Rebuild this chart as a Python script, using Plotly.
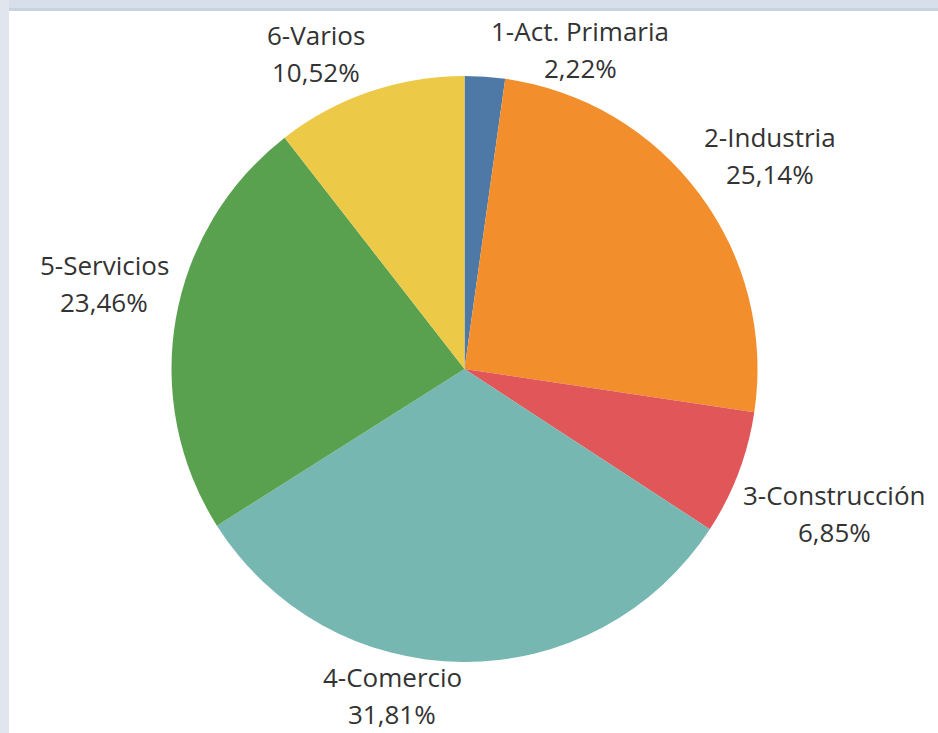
import plotly.graph_objects as go

# ---- data ----
categories = ["1-Act. Primaria", "2-Industria", "3-Construcción", "4-Comercio", "5-Servicios", "6-Varios"]
shares = [2.22, 25.14, 6.85, 31.81, 23.46, 10.52]
colors = ["#4e79a7", "#f28e2b", "#e15759", "#76b7b2", "#59a14f", "#edc948"]

# ---- layout config (label anchor centres in px) ----
W, H = 938, 733
label_centres = [(580, 31), (770, 137), (834, 495), (392, 677), (104, 265), (316, 35)]
line_gap = 37
pie_cx, pie_cy, pie_r = 464.5, 369, 293

def fmt(v):
    return f"{v:.2f}".replace(".", ",") + "%"

fig = go.Figure(go.Pie(
    labels=categories,
    values=shares,
    sort=False,
    direction="clockwise",
    rotation=0,
    marker=dict(colors=colors, line=dict(color="white", width=0)),
    textinfo="none",
    hoverinfo="label+percent",
    showlegend=False,
    domain=dict(x=[(pie_cx - pie_r) / W, (pie_cx + pie_r) / W],
                y=[1 - (pie_cy + pie_r) / H, 1 - (pie_cy - pie_r) / H]),
))

font = dict(family="Open Sans, Noto Sans, sans-serif", size=26, color="#333333")
annotations = []
for name, v, (x, y) in zip(categories, shares, label_centres):
    annotations.append(dict(x=x / W, y=1 - y / H, xref="paper", yref="paper",
                            text=name, showarrow=False, font=font,
                            xanchor="center", yanchor="middle"))
    annotations.append(dict(x=x / W, y=1 - (y + line_gap) / H, xref="paper", yref="paper",
                            text=fmt(v), showarrow=False, font=font,
                            xanchor="center", yanchor="middle"))

shapes = [
    dict(type="rect", xref="paper", yref="paper", x0=0, x1=1, y0=1 - 11 / H, y1=1,
         fillcolor="#d6dfea", line=dict(width=0), layer="above"),
    dict(type="rect", xref="paper", yref="paper", x0=0, x1=1, y0=1 - 11 / H, y1=1 - 8 / H,
         fillcolor="#c9d3df", line=dict(width=0), layer="above"),
    dict(type="rect", xref="paper", yref="paper", x0=0, x1=9 / W, y0=0, y1=1,
         fillcolor="#e1e6ee", line=dict(width=0), layer="above"),
]

fig.update_layout(
    width=W, height=H,
    margin=dict(l=0, r=0, t=0, b=0),
    paper_bgcolor="white",
    plot_bgcolor="white",
    annotations=annotations,
    shapes=shapes,
)

fig.write_html("out.html", config={"displayModeBar": False},
               post_script="document.body.style.margin='0';document.body.style.overflow='hidden';")
